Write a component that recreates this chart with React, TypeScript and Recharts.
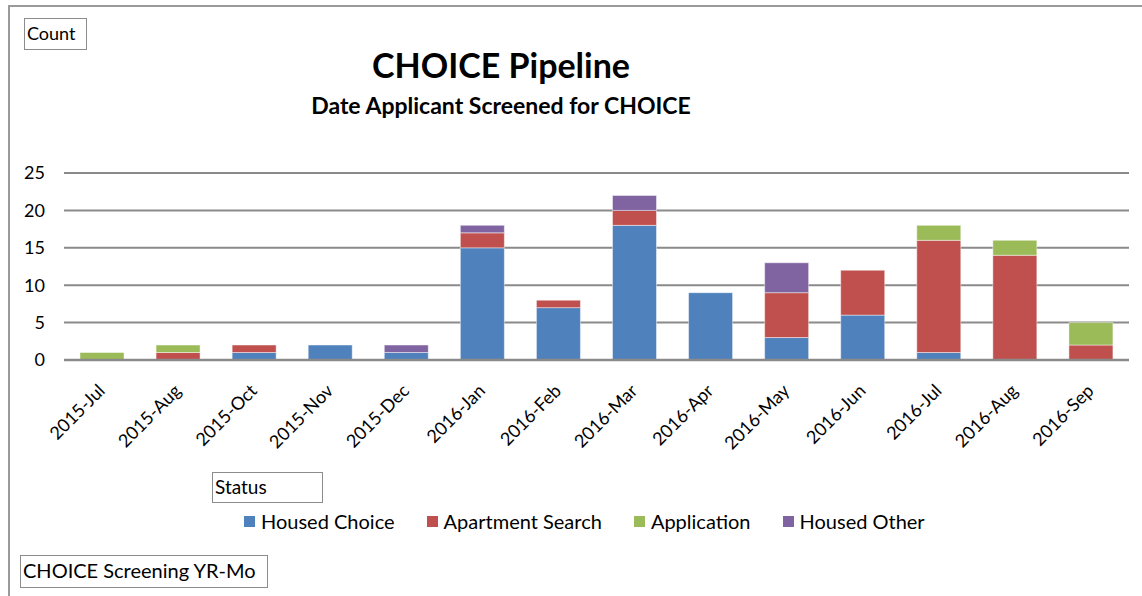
import React from 'react';
import { BarChart, Bar, XAxis, YAxis, CartesianGrid, Legend } from 'recharts';

const months = [
  '2015-Jul', '2015-Aug', '2015-Oct', '2015-Nov', '2015-Dec', '2016-Jan', '2016-Feb',
  '2016-Mar', '2016-Apr', '2016-May', '2016-Jun', '2016-Jul', '2016-Aug', '2016-Sep',
];
const housedChoice = [0, 0, 1, 2, 1, 15, 7, 18, 9, 3, 6, 1, 0, 0];
const apartmentSearch = [0, 1, 1, 0, 0, 2, 1, 2, 0, 6, 6, 15, 14, 2];
const application = [1, 1, 0, 0, 0, 0, 0, 0, 0, 0, 0, 2, 2, 3];
const housedOther = [0, 0, 0, 0, 1, 1, 0, 2, 0, 4, 0, 0, 0, 0];
const yTicks = [0, 5, 10, 15, 20, 25];

const series = [
  { key: 'housedChoice', name: 'Housed Choice', color: '#4F81BD' },
  { key: 'apartmentSearch', name: 'Apartment Search', color: '#C0504D' },
  { key: 'application', name: 'Application', color: '#9BBB59' },
  { key: 'housedOther', name: 'Housed Other', color: '#8064A2' },
];

const data = months.map((m, i) => ({
  month: m,
  housedChoice: housedChoice[i],
  apartmentSearch: apartmentSearch[i],
  application: application[i],
  housedOther: housedOther[i],
}));

const FONT = 'Lato, "Open Sans", sans-serif';
const GRID = '#8a8a8a';

const boxStyle: React.CSSProperties = {
  position: 'absolute',
  border: '1px solid #8c8c8c',
  fontSize: 19,
  lineHeight: '28px',
  paddingLeft: 2,
  boxSizing: 'border-box',
  color: '#000',
  background: '#fff',
};

const MonthTick = (props: any) => {
  const { x, y, payload } = props;
  return (
    <g transform={`translate(${x + 4},${y + 32})`}>
      <text textAnchor="end" transform="rotate(-45)" fontSize={18} fill="#000" fontFamily={FONT}>
        {payload.value}
      </text>
    </g>
  );
};

const LegendBody = () => (
  <div style={{ display: 'flex', alignItems: 'center', fontFamily: FONT, fontSize: 20, color: '#000' }}>
    {series.map((s) => (
      <div key={s.key} style={{ display: 'flex', alignItems: 'center', marginRight: 32 }}>
        <span style={{ width: 11, height: 11, background: s.color, marginRight: 6, display: 'inline-block' }} />
        <span>{s.name}</span>
      </div>
    ))}
  </div>
);

export default function App() {
  return (
    <div
      style={{
        position: 'absolute',
        left: 0,
        top: 0,
        width: 1142,
        height: 596,
        background: '#fff',
        overflow: 'hidden',
        fontFamily: FONT,
      }}
    >
      <BarChart
        width={1142}
        height={596}
        data={data}
        margin={{ top: 173, right: 13, left: 0, bottom: 176 }}
        barSize={44}
      >
        <CartesianGrid vertical={false} stroke={GRID} strokeWidth={2} />
        <XAxis
          dataKey="month"
          interval={0}
          height={60}
          tick={<MonthTick />}
          tickLine={false}
          tickSize={0}
          tickMargin={0}
          axisLine={{ stroke: GRID, strokeWidth: 2.5 }}
        />
        <YAxis
          width={64}
          domain={[0, 25]}
          ticks={yTicks}
          axisLine={false}
          tickLine={false}
          tickSize={0}
          tickMargin={19}
          tick={{ fill: '#000', fontSize: 18, fontFamily: FONT }}
        />
        <Legend
          layout="horizontal"
          verticalAlign="middle"
          align="center"
          wrapperStyle={{ left: 244, top: 509, width: 850 }}
          content={<LegendBody />}
        />
        {series.map((s) => (
          <Bar
            key={s.key}
            dataKey={s.key}
            name={s.name}
            stackId="status"
            fill={s.color}
            stroke="rgba(255,255,255,0.45)"
            strokeWidth={1}
            isAnimationActive={false}
          />
        ))}
      </BarChart>

      {/* frame */}
      <div style={{ position: 'absolute', left: 8, top: 5, width: 2, height: 600, background: '#9a9a9a' }} />
      <div style={{ position: 'absolute', left: 8, top: 5, width: 1140, height: 2, background: '#9a9a9a' }} />

      <div style={{ ...boxStyle, left: 24, top: 18, width: 63, height: 32, fontSize: 18 }}>Count</div>

      <div
        style={{
          position: 'absolute',
          left: 0,
          width: 1002,
          top: 48,
          textAlign: 'center',
          fontSize: 34,
          lineHeight: '34px',
          fontWeight: 700,
          color: '#000',
        }}
      >
        CHOICE Pipeline
      </div>
      <div
        style={{
          position: 'absolute',
          left: 0,
          width: 1002,
          top: 94,
          textAlign: 'center',
          fontSize: 23,
          lineHeight: '23px',
          fontWeight: 700,
          color: '#000',
        }}
      >
        Date Applicant Screened for CHOICE
      </div>

      <div style={{ ...boxStyle, left: 212, top: 472, width: 111, height: 31 }}>Status</div>
      <div style={{ ...boxStyle, left: 20, top: 555, width: 248, height: 33, fontSize: 20 }}>
        CHOICE Screening YR-Mo
      </div>
    </div>
  );
}
